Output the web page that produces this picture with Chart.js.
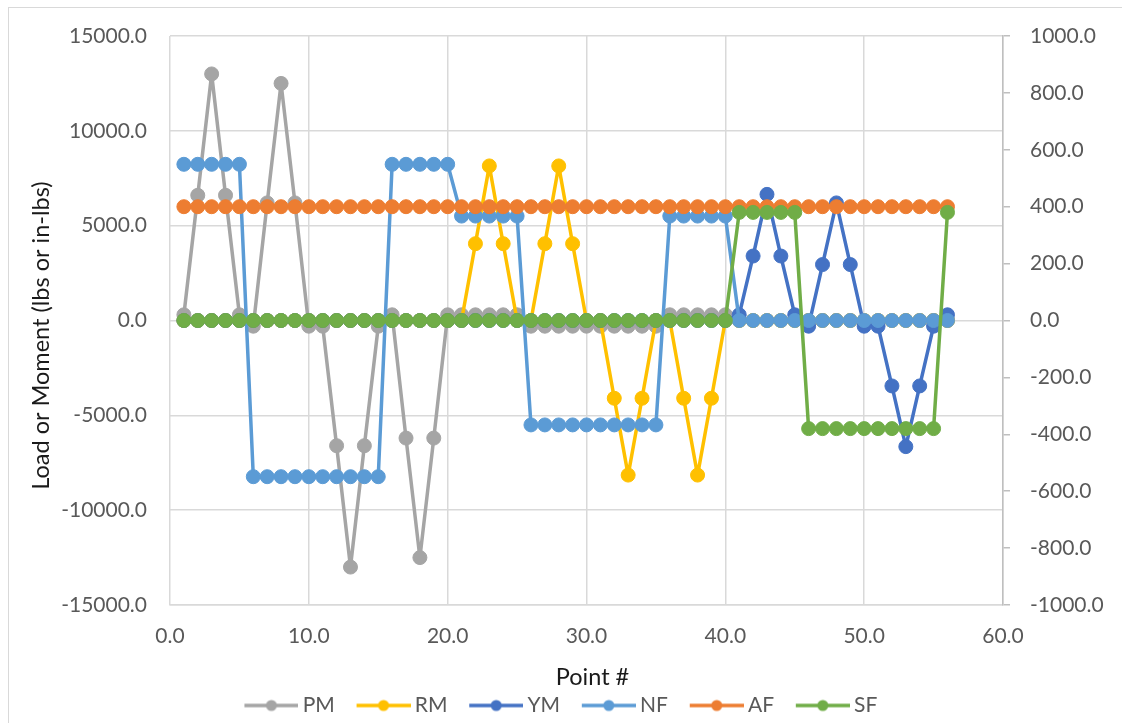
<!DOCTYPE html>
<html><head><meta charset="utf-8">
<script src="https://cdn.jsdelivr.net/npm/chart.js@4.4.1/dist/chart.umd.min.js"></script>
<style>
html,body{margin:0;padding:0;background:#fff;}
#wrap{position:relative;width:1122px;height:723px;overflow:hidden;}
#frame{position:absolute;left:8px;top:7px;width:1300px;height:900px;border:1px solid #d9d9d9;box-sizing:border-box;pointer-events:none;}
canvas{position:absolute;left:0;top:0;}
</style></head><body>
<div id="wrap"><canvas id="c" width="1122" height="723"></canvas><div id="frame"></div></div>
<script>
// Point numbers (x values)
const points = [1,2,3,4,5,6,7,8,9,10,11,12,13,14,15,16,17,18,19,20,21,22,23,24,25,26,27,28,29,30,31,32,33,34,35,36,37,38,39,40,41,42,43,44,45,46,47,48,49,50,51,52,53,54,55,56];

// Moments (left axis)
const PM = [300,6600,13000,6600,300, -300,6200,12500,6200,-300, -300,-6600,-13000,-6600,-300, 300,-6200,-12500,-6200,300,
            300,300,300,300,300, -300,-300,-300,-300,-300, -300,-300,-300,-300,-300, 300,300,300,300,300,
            0,0,0,0,0, 0,0,0,0,0, 0,0,0,0,0, 0];
const RM = [0,0,0,0,0, 0,0,0,0,0, 0,0,0,0,0, 0,0,0,0,0,
            0,4050,8150,4050,0, 0,4050,8150,4050,0, 0,-4100,-8150,-4100,0, 0,-4100,-8150,-4100,0,
            0,0,0,0,0, 0,0,0,0,0, 0,0,0,0,0, 0];
const YM = [0,0,0,0,0, 0,0,0,0,0, 0,0,0,0,0, 0,0,0,0,0,
            0,0,0,0,0, 0,0,0,0,0, 0,0,0,0,0, 0,0,0,0,0,
            300,3400,6650,3400,300, -300,2950,6200,2950,-300, -300,-3450,-6650,-3450,-300, 300];
// Forces (right axis)
const NF = [549,549,549,549,549, -549,-549,-549,-549,-549, -549,-549,-549,-549,-549, 549,549,549,549,549,
            367,367,367,367,367, -367,-367,-367,-367,-367, -367,-367,-367,-367,-367, 367,367,367,367,367,
            0,0,0,0,0, 0,0,0,0,0, 0,0,0,0,0, 0];
const AF = [400,400,400,400,400, 400,400,400,400,400, 400,400,400,400,400, 400,400,400,400,400,
            400,400,400,400,400, 400,400,400,400,400, 400,400,400,400,400, 400,400,400,400,400,
            400,400,400,400,400, 400,400,400,400,400, 400,400,400,400,400, 400];
const SF = [0,0,0,0,0, 0,0,0,0,0, 0,0,0,0,0, 0,0,0,0,0,
            0,0,0,0,0, 0,0,0,0,0, 0,0,0,0,0, 0,0,0,0,0,
            380,380,380,380,380, -380,-380,-380,-380,-380, -380,-380,-380,-380,-380, 380];

const seriesNames = ['PM','RM','YM','NF','AF','SF'];
const seriesValues = [PM, RM, YM, NF, AF, SF];
const seriesAxis = ['y','y','y','y2','y2','y2'];
const colors = ['#A5A5A5','#FFC000','#4472C4','#5B9BD5','#ED7D31','#70AD47'];

const FONT = 'Lato';
const toPts = arr => points.map((x, i) => ({x: x, y: arr[i]}));

// legend icons: line with a circular marker
const icons = colors.map(c => {
  const cv = document.createElement('canvas');
  cv.width = 77; cv.height = 16;
  const g = cv.getContext('2d');
  g.strokeStyle = c; g.lineWidth = 3.5;
  g.beginPath(); g.moveTo(23, 8); g.lineTo(77, 8); g.stroke();
  g.fillStyle = c;
  g.beginPath(); g.arc(50, 8, 5.5, 0, Math.PI * 2); g.fill();
  return cv;
});

const datasets = seriesNames.map((name, i) => ({
  label: name,
  data: toPts(seriesValues[i]),
  yAxisID: seriesAxis[i],
  borderColor: colors[i],
  backgroundColor: colors[i],
  pointBackgroundColor: colors[i],
  pointBorderColor: colors[i],
  borderWidth: 3.5,
  borderJoinStyle: 'round',
  borderCapStyle: 'round',
  pointRadius: 7,
  pointBorderWidth: 1,
  pointHoverRadius: 7,
  tension: 0,
  fill: false,
  order: seriesNames.length - i
}));

const tickFont = {family: FONT, size: 21};
const fmt = v => Number(v).toFixed(1);
const PAD_R = 17;

new Chart(document.getElementById('c'), {
  type: 'line',
  data: {datasets: datasets},
  options: {
    responsive: false,
    animation: false,
    devicePixelRatio: 1,
    layout: {padding: {left: 0, right: PAD_R, top: 36, bottom: -3}},
    plugins: {
      tooltip: {enabled: false},
      legend: {
        position: 'bottom',
        labels: {
          font: {family: FONT, size: 21},
          color: '#595959',
          usePointStyle: true,
          pointStyleWidth: 64.5,
          padding: 5,
          sort: (a, b) => a.datasetIndex - b.datasetIndex,
          generateLabels: (chart) => {
            const items = Chart.defaults.plugins.legend.labels.generateLabels(chart);
            items.forEach(it => { it.pointStyle = icons[it.datasetIndex]; });
            return items;
          }
        }
      }
    },
    scales: {
      x: {
        type: 'linear', min: 0, max: 60,
        ticks: {stepSize: 10, padding: 19, color: '#595959', font: tickFont, callback: fmt},
        grid: {color: '#d9d9d9', lineWidth: 1.5, drawTicks: false},
        border: {display: true, color: '#d9d9d9', width: 1.5},
        title: {display: true, text: '  Point #', color: '#1a1a1a', font: {family: FONT, size: 23.5}, padding: {top: 0, bottom: -2}},
        afterFit: s => { s.height = 85; }
      },
      y: {
        position: 'left', min: -15000, max: 15000,
        ticks: {stepSize: 5000, padding: 23, color: '#595959', font: tickFont, callback: fmt},
        grid: {color: '#d9d9d9', lineWidth: 1.5, drawTicks: false},
        border: {display: false},
        title: {display: true, text: 'Load or Moment (lbs or in-lbs)     ', color: '#1a1a1a', font: {family: FONT, size: 23.5}, padding: {top: 27, bottom: 0}},
        afterFit: s => { s.width = 170; }
      },
      y2: {
        position: 'right', min: -1000, max: 1000,
        ticks: {stepSize: 200, padding: 20, color: '#595959', font: tickFont, callback: fmt},
        grid: {drawOnChartArea: false, color: '#bfbfbf', lineWidth: 1.5, tickLength: 7},
        border: {display: true, color: '#bfbfbf', width: 1.5},
        afterFit: s => { s.width = 1122 - PAD_R - 1003; }
      }
    }
  }
});
</script>
</body></html>
